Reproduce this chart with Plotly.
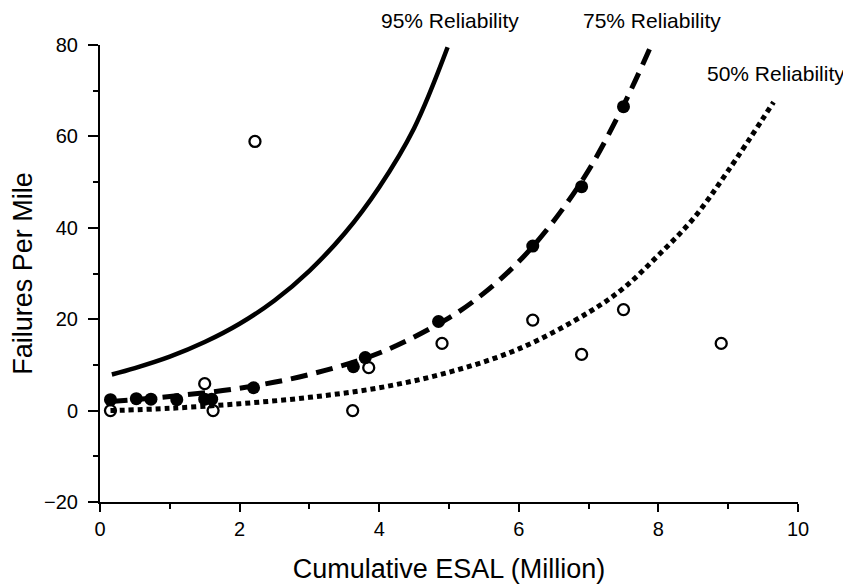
import plotly.graph_objects as go

# Observed data
filled_x = [0.15, 0.52, 0.73, 1.1, 1.5, 1.6, 2.2, 3.63, 3.8, 4.85, 6.2, 6.9, 7.5]
filled_y = [2.4, 2.6, 2.5, 2.4, 2.5, 2.5, 5.0, 9.6, 11.6, 19.5, 36, 49, 66.5]

open_x = [0.15, 1.5, 1.62, 2.22, 3.62, 3.85, 4.9, 6.2, 6.9, 7.5, 8.9]
open_y = [0.0, 5.9, 0.0, 58.9, 0.0, 9.4, 14.7, 19.8, 12.3, 22.1, 14.7]

# Reliability curves
r95_x = [0.17, 0.5, 1.0, 1.5, 2.0, 2.5, 3.0, 3.5, 4.0, 4.5, 4.98]
r95_y = [7.9, 9.3, 11.8, 15.0, 19.0, 24.1, 30.6, 38.7, 48.9, 61.8, 79.5]

r75_x = [0.15, 1.0, 2.0, 3.0, 4.0, 5.0, 5.5, 6.0, 6.5, 7.0, 7.5, 7.9]
r75_y = [2.0, 3.1, 4.9, 7.9, 12.6, 20.3, 25.7, 32.6, 41.5, 52.6, 66.8, 80.0]

r50_x = [0.15, 1.0, 2.0, 3.0, 4.0, 5.0, 6.0, 7.0, 7.5, 8.0, 8.5, 9.0, 9.65]
r50_y = [0.0, 0.5, 1.5, 2.9, 5.0, 8.4, 13.5, 21.5, 26.8, 34.0, 42.0, 52.5, 67.5]

curve_labels = ["95% Reliability", "75% Reliability", "50% Reliability"]

FONT = "Liberation Sans, Arial, Helvetica, sans-serif"

fig = go.Figure()

fig.add_trace(go.Scatter(x=r95_x, y=r95_y, mode="lines",
                         line=dict(color="black", width=4.5, shape="spline"),
                         showlegend=False, hoverinfo="skip"))
fig.add_trace(go.Scatter(x=r75_x, y=r75_y, mode="lines",
                         line=dict(color="black", width=5, dash="17px,9px", shape="spline"),
                         showlegend=False, hoverinfo="skip"))
fig.add_trace(go.Scatter(x=r50_x, y=r50_y, mode="lines",
                         line=dict(color="black", width=5, dash="5px,4px", shape="spline"),
                         showlegend=False, hoverinfo="skip"))

fig.add_trace(go.Scatter(x=open_x, y=open_y, mode="markers",
                         marker=dict(symbol="circle-open", size=11, color="black",
                                     line=dict(width=2.3, color="black")),
                         showlegend=False, cliponaxis=False))
fig.add_trace(go.Scatter(x=filled_x, y=filled_y, mode="markers",
                         marker=dict(symbol="circle", size=13, color="black"),
                         showlegend=False, cliponaxis=False))

# label positions: (x in data units, y in paper units)
ann_pos = [(5.01, 1.054), (7.91, 1.054), (9.69, 0.938)]
for (ax, ay), txt in zip(ann_pos, curve_labels):
    fig.add_annotation(x=ax, y=ay, xref="x", yref="paper", text=txt, showarrow=False,
                       font=dict(family=FONT, size=21, color="black"),
                       xanchor="center", yanchor="middle")

fig.update_layout(
    width=851, height=587,
    margin=dict(l=92, r=61, t=37, b=93),
    paper_bgcolor="white", plot_bgcolor="white",
    font=dict(family=FONT, color="black"),
    xaxis=dict(
        range=[0, 10], tickmode="linear", tick0=0, dtick=2, automargin=False,
        ticks="outside", ticklen=8, tickwidth=2, tickcolor="black",
        minor=dict(dtick=1, ticks="outside", ticklen=5, tickwidth=2, tickcolor="black"),
        showline=True, linewidth=2, linecolor="black",
        showgrid=False, zeroline=False,
        tickfont=dict(size=20, family=FONT, color="black"),
        ticklabelstandoff=0,
        title=dict(text="Cumulative ESAL (Million)",
                   font=dict(size=27, family=FONT, color="black"), standoff=20),
    ),
    yaxis=dict(
        range=[-20, 80], tickmode="linear", tick0=-20, dtick=20, automargin=False,
        ticks="outside", ticklen=10, tickwidth=2, tickcolor="black",
        minor=dict(dtick=10, ticks="outside", ticklen=5, tickwidth=2, tickcolor="black"),
        showline=True, linewidth=2, linecolor="black",
        showgrid=False, zeroline=False,
        tickfont=dict(size=20, family=FONT, color="black"),
        ticklabelstandoff=6,
        title=dict(text="Failures Per Mile",
                   font=dict(size=27, family=FONT, color="black"), standoff=13),
    ),
)

fig.write_html("out.html")
